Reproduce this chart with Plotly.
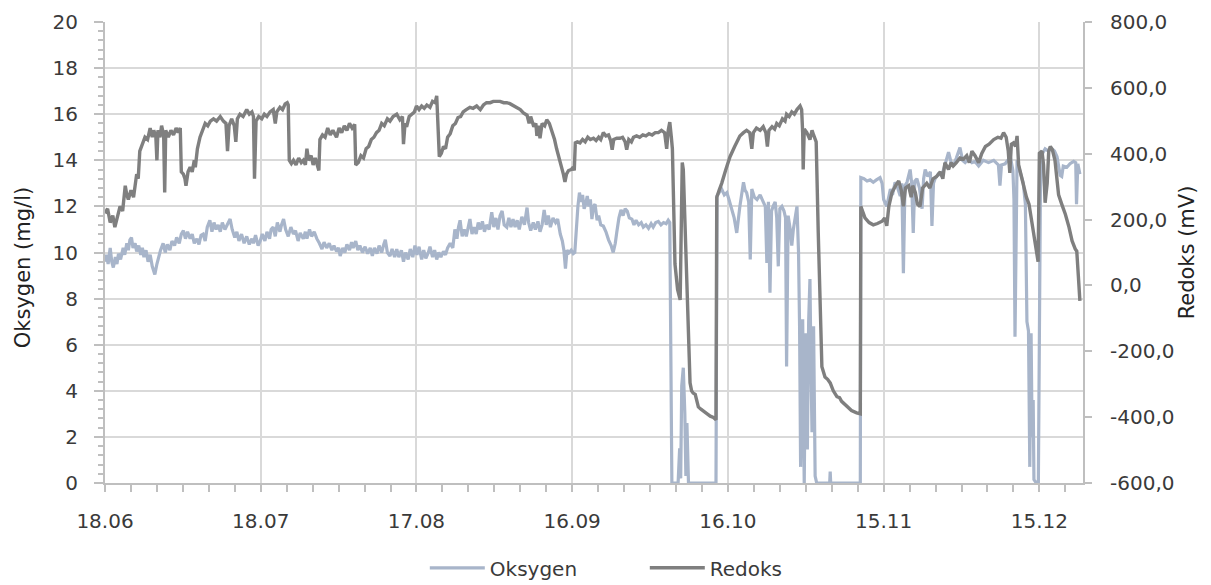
import pandas as pd
import plotly.graph_objects as go

START = "2013-06-18"
END_DAY = 188.4

# x tick labels (every 30 days from 18.06)
tick_dates = ["2013-06-18", "2013-07-18", "2013-08-17", "2013-09-16",
              "2013-10-16", "2013-11-15", "2013-12-15"]
tick_text = ["18.06", "18.07", "17.08", "16.09", "16.10", "15.11", "15.12"]

y1_ticks = [0, 2, 4, 6, 8, 10, 12, 14, 16, 18, 20]
y2_ticks = [-600, -400, -200, 0, 200, 400, 600, 800]
y2_text = ["-600,0", "-400,0", "-200,0", "0,0", "200,0", "400,0", "600,0", "800,0"]

# Redoks (mV), day offset from 18.06
redox_day = [
    0.0, 0.5, 1.0, 1.5, 1.9, 2.4, 2.9, 3.4, 3.9, 4.2,
    4.5, 5.0, 5.5, 6.1, 6.4, 6.7, 7.2, 7.7, 8.2, 8.7,
    9.1, 9.4, 9.8, 10.0, 10.2, 10.6, 10.9, 11.3, 11.5, 11.7,
    12.2, 12.7, 13.2, 13.7, 14.1, 14.5, 14.7, 15.1, 15.4, 15.6,
    16.0, 16.4, 16.8, 17.2, 17.4, 17.8, 18.3, 18.8, 19.3, 19.8,
    20.3, 20.9, 21.5, 22.2, 22.8, 23.3, 23.6, 23.9, 24.4, 24.9,
    25.2, 25.5, 26.0, 26.6, 27.3, 27.8, 28.3, 28.6, 28.8, 29.1,
    29.6, 30.2, 30.7, 31.2, 31.8, 32.4, 32.8, 33.1, 33.7, 34.2,
    34.7, 35.1, 35.3, 35.5, 35.9, 36.3, 36.8, 37.3, 37.8, 38.2,
    38.6, 38.9, 39.2, 39.7, 40.1, 40.5, 40.9, 41.2, 41.4, 41.9,
    42.4, 42.9, 43.4, 43.9, 44.6, 45.1, 45.6, 46.1, 46.6, 47.1,
    47.6, 48.1, 48.3, 48.8, 49.3, 49.8, 50.3, 50.8, 51.3, 51.8,
    52.3, 52.8, 53.3, 53.8, 54.4, 54.9, 55.5, 56.2, 56.8, 57.3,
    57.5, 57.8, 58.1, 58.6, 59.1, 59.6, 60.0, 60.5, 61.0, 61.5,
    62.0, 62.6, 63.1, 63.6, 63.9, 64.1, 64.4, 64.8, 65.2, 65.6,
    66.0, 66.5, 67.0, 67.5, 68.0, 68.5, 69.0, 69.6, 70.3, 70.9,
    71.6, 72.3, 72.9, 73.5, 74.2, 74.8, 75.4, 76.1, 76.8, 77.4,
    78.0, 78.7, 79.3, 80.0, 80.6, 81.3, 81.7, 82.0, 82.6, 83.0,
    83.2, 83.5, 83.8, 84.2, 84.7, 85.1, 85.6, 86.1, 86.6, 87.0,
    87.5, 88.0, 88.3, 88.6, 88.9, 89.3, 89.8, 90.2, 90.4, 90.6,
    91.0, 91.5, 92.0, 92.5, 93.0, 93.5, 94.1, 94.6, 95.1, 95.5,
    96.0, 96.5, 97.0, 97.4, 97.7, 98.0, 98.6, 99.2, 99.7, 100.2,
    100.5, 100.9, 101.4, 101.8, 102.4, 103.0, 103.6, 104.2, 104.8, 105.4,
    106.0, 106.6, 107.2, 107.8, 108.2, 108.5, 108.8, 109.1, 109.3, 109.8,
    110.3, 110.8, 111.0, 111.2, 111.4, 111.8, 112.3, 112.7, 113.0, 113.3,
    113.7, 114.0, 114.3, 114.8, 115.3, 116.0, 116.6, 117.2, 117.7, 117.85,
    118.3, 118.8, 119.6, 120.4, 121.3, 122.3, 123.0, 123.6, 124.2, 124.6,
    124.9, 125.5, 126.2, 126.8, 127.3, 127.6, 127.9, 128.5, 129.0, 129.4,
    129.9, 130.5, 131.0, 131.3, 131.8, 132.3, 132.8, 133.3, 133.9, 134.2,
    134.4, 134.5, 134.7, 135.2, 135.8, 136.2, 136.5, 137.0, 137.4, 137.8,
    138.1, 138.7, 139.2, 139.7, 140.3, 141.0, 141.5, 141.9, 142.4, 142.9,
    143.8, 144.8, 145.5, 145.6, 146.0, 146.4, 147.2, 148.0, 148.8, 149.7,
    150.2, 150.6, 151.0, 151.6, 152.3, 152.9, 153.4, 153.8, 154.2, 154.8,
    155.3, 155.6, 156.1, 156.5, 157.0, 157.5, 158.3, 158.9, 159.5, 160.2,
    160.9, 161.4, 161.8, 162.5, 163.0, 163.4, 164.0, 164.7, 165.4, 166.0,
    166.5, 167.0, 167.6, 168.3, 168.9, 169.6, 170.3, 171.2, 172.0, 172.6,
    173.1, 173.6, 174.0, 174.3, 174.6, 175.0, 175.4, 175.7, 176.0, 176.5,
    176.9, 177.5, 178.0, 178.5, 178.9, 179.4, 179.75, 180.0, 180.5, 180.8,
    181.1, 181.5, 181.8, 182.1, 182.5, 183.0, 183.4, 183.7, 184.3, 185.0,
    185.7, 186.3, 186.9, 187.2, 187.5, 187.8,
]
redox_mv = [
    219, 233, 191, 212, 177, 205, 240, 226, 303, 275,
    261, 289, 268, 338, 324, 408, 429, 450, 443, 478,
    450, 471, 450, 380, 471, 450, 485, 457, 282, 471,
    450, 471, 457, 478, 464, 478, 345, 338, 324, 303,
    345, 359, 345, 380, 359, 415, 450, 471, 492, 485,
    499, 506, 499, 513, 499, 492, 408, 485, 506, 485,
    436, 506, 520, 513, 534, 520, 527, 513, 324, 499,
    513, 506, 520, 513, 527, 534, 492, 527, 541, 534,
    551, 555, 548, 380, 370, 380, 366, 387, 373, 380,
    366, 415, 380, 394, 366, 387, 359, 349, 443, 457,
    450, 478, 457, 471, 450, 478, 464, 485, 471, 492,
    478, 489, 366, 373, 394, 387, 415, 422, 443, 450,
    464, 471, 492, 485, 506, 499, 513, 520, 503, 513,
    429, 492, 482, 513, 520, 527, 545, 534, 545, 538,
    548, 541, 559, 555, 576, 478, 391, 401, 422, 415,
    450, 461, 485, 492, 510, 513, 527, 534, 541, 538,
    545, 534, 548, 555, 555, 559, 559, 559, 555, 555,
    552, 545, 538, 534, 524, 517, 492, 513, 482, 492,
    454, 485, 447, 492, 485, 503, 492, 471, 443, 415,
    387, 359, 338, 314, 338, 349, 352, 359, 349, 433,
    436, 433, 443, 436, 450, 443, 447, 440, 450, 443,
    464, 454, 457, 440, 412, 443, 447, 447, 450, 436,
    412, 443, 436, 450, 454, 450, 457, 454, 461, 457,
    464, 464, 471, 464, 415, 471, 496, 450, 415, 65,
    -12, -44, 135, 373, 352, 163, -145, -296, -320, -327,
    -331, -355, -369, -376, -383, -390, -397, -401, -408, 268,
    289, 310, 352, 391, 422, 454, 464, 471, 464, 415,
    464, 478, 471, 482, 464, 422, 471, 482, 475, 492,
    485, 506, 499, 520, 513, 527, 520, 534, 545, 534,
    464, 352, 475, 464, 443, 471, 457, 436, 160, -75,
    -247, -278, -285, -296, -320, -338, -341, -352, -359, -369,
    -380, -387, -390, 240, 219, 205, 191, 184, 188, 195,
    205, 181, 240, 282, 303, 317, 289, 240, 296, 303,
    268, 303, 282, 247, 240, 296, 310, 296, 324, 331,
    345, 324, 373, 352, 373, 363, 373, 387, 384, 394,
    373, 408, 394, 373, 401, 422, 429, 443, 450, 447,
    464, 450, 408, 342, 429, 433, 422, 454, 366, 331,
    303, 268, 247, 198, 160, 107, 72, 401, 408, 366,
    251, 310, 408, 422, 412, 380, 324, 275, 247, 216,
    177, 135, 111, 104, 30, -47,
]

# Oksygen (mg/l), day offset from 18.06
oxy_day = [
    0.0, 0.3, 0.6, 1.0, 1.3, 1.6, 2.0, 2.3, 2.6, 3.0,
    3.5, 3.8, 4.2, 4.5, 4.8, 5.1, 5.4, 5.8, 6.1, 6.5,
    6.9, 7.2, 7.5, 7.9, 8.3, 8.7, 9.1, 9.6, 10.0, 10.3,
    10.7, 11.2, 11.6, 12.0, 12.5, 12.9, 13.4, 13.8, 14.3, 14.7,
    15.1, 15.5, 15.9, 16.4, 16.8, 17.2, 17.7, 18.1, 18.5, 18.9,
    19.3, 19.7, 20.2, 20.6, 21.0, 21.4, 21.8, 22.2, 22.6, 23.1,
    23.5, 24.1, 24.5, 25.0, 25.4, 25.8, 26.3, 26.8, 27.3, 27.8,
    28.3, 28.6, 29.0, 29.5, 29.9, 30.3, 30.8, 31.2, 31.7, 32.0,
    32.4, 32.8, 33.2, 33.7, 34.0, 34.4, 34.8, 35.3, 35.8, 36.3,
    36.7, 37.2, 37.6, 38.2, 38.6, 38.9, 39.4, 39.8, 40.3, 40.8,
    41.3, 41.8, 42.2, 42.7, 43.2, 43.7, 44.1, 44.6, 45.0, 45.3,
    45.8, 46.2, 46.6, 47.1, 47.5, 47.8, 48.3, 48.7, 49.1, 49.6,
    50.1, 50.6, 51.1, 51.5, 51.9, 52.4, 52.8, 53.3, 53.7, 54.0,
    54.4, 54.9, 55.3, 55.8, 56.2, 56.6, 57.1, 57.5, 57.9, 58.4,
    58.8, 59.3, 59.7, 60.1, 60.5, 61.0, 61.4, 61.8, 62.3, 62.6,
    63.1, 63.5, 63.9, 64.3, 64.7, 65.2, 65.6, 66.0, 66.5, 67.0,
    67.4, 67.8, 68.1, 68.4, 68.8, 69.2, 69.6, 70.0, 70.3, 70.7,
    71.1, 71.5, 71.9, 72.3, 72.7, 73.1, 73.5, 74.0, 74.5, 74.9,
    75.3, 75.7, 76.1, 76.5, 76.9, 77.4, 77.8, 78.2, 78.6, 79.0,
    79.4, 79.8, 80.3, 80.8, 81.3, 81.6, 82.0, 82.5, 82.9, 83.4,
    83.8, 84.2, 84.6, 85.0, 85.4, 85.8, 86.3, 86.8, 87.2, 87.7,
    88.1, 88.4, 88.7, 89.0, 89.4, 89.8, 90.2, 90.5, 90.8, 91.1,
    91.4, 91.7, 92.0, 92.3, 92.6, 92.9, 93.2, 93.5, 93.8, 94.1,
    94.4, 94.8, 95.1, 95.5, 96.0, 96.5, 97.0, 97.5, 97.9, 98.3,
    98.6, 99.0, 99.4, 99.8, 100.2, 100.6, 101.0, 101.5, 101.9, 102.3,
    102.8, 103.3, 103.7, 104.2, 104.7, 105.2, 105.6, 106.1, 106.6, 107.1,
    107.6, 108.1, 108.5, 108.8, 109.2, 110.4, 110.7, 110.9, 111.1, 111.4,
    111.7, 111.9, 112.1, 112.4, 117.7, 117.9, 118.3, 118.8, 119.3, 119.8,
    120.2, 120.7, 121.2, 121.7, 122.0, 122.3, 122.7, 123.0, 123.3, 123.6,
    124.0, 124.3, 124.6, 125.1, 125.6, 126.2, 126.8, 127.2, 127.5, 127.8,
    128.1, 128.4, 128.7, 129.1, 129.4, 129.7, 130.0, 130.4, 130.8, 131.1,
    131.3, 131.6, 132.0, 132.3, 132.6, 132.9, 133.3, 133.6, 133.8, 134.0,
    134.2, 134.4, 134.55, 134.7, 134.95, 135.1, 135.3, 135.55, 135.8, 136.0,
    136.2, 136.5, 136.7, 136.8, 137.1, 139.6, 139.7, 139.8, 145.5, 145.6,
    146.2, 146.8, 147.4, 148.0, 148.6, 149.3, 149.7, 150.0, 150.6, 151.3,
    151.7, 152.2, 152.7, 153.2, 153.5, 153.8, 154.1, 154.5, 155.1, 155.4,
    155.7, 156.0, 156.4, 156.9, 157.4, 157.7, 158.0, 158.5, 159.0, 159.3,
    159.6, 159.9, 160.5, 161.2, 161.8, 162.5, 163.0, 163.4, 164.0, 164.7,
    165.2, 165.7, 166.3, 167.0, 167.6, 168.3, 169.2, 170.2, 171.2, 172.1,
    172.4, 172.7, 173.4, 174.0, 174.4, 174.9, 175.1, 175.3, 175.5, 175.7,
    176.3, 176.9, 177.3, 177.6, 177.9, 178.15, 178.4, 178.6, 178.8, 178.95,
    179.4, 179.8, 180.2, 180.6, 181.1, 181.7, 182.4, 182.9, 183.4, 184.0,
    184.3, 184.6, 185.3, 185.9, 186.6, 187.0, 187.15, 187.4, 187.8,
]
oxy_mg = [
    9.6, 9.9, 9.5, 10.2, 9.6, 9.35, 9.8, 9.5, 9.95, 9.7,
    10.2, 9.9, 10.4, 10.1, 10.55, 10.65, 10.2, 10.4, 10.05, 10.3,
    9.9, 10.2, 9.8, 10.1, 9.6, 9.9, 9.4, 9.05, 9.5, 9.8,
    10.1, 10.4, 10.0, 10.35, 10.1, 10.5, 10.3, 10.65, 10.4, 10.8,
    10.95, 10.6, 10.9, 10.6, 10.8, 10.4, 10.6, 10.35, 10.75, 10.8,
    10.5, 11.1, 11.4, 10.9, 11.3, 11.0, 11.2, 10.9, 11.3, 11.0,
    11.2, 11.45, 11.0, 10.65, 10.9, 10.5, 10.8, 10.4, 10.7, 10.35,
    10.6, 10.4, 10.75, 10.3, 10.5, 10.8, 10.5, 10.9, 10.6, 11.0,
    11.1, 10.7, 11.3, 10.9, 11.2, 11.45, 11.0, 10.7, 11.1, 10.8,
    10.95, 10.5, 10.85, 10.6, 10.9, 10.6, 11.0, 10.7, 10.9, 10.6,
    10.4, 10.15, 10.45, 10.2, 10.4, 10.1, 10.3, 10.05, 10.2, 9.85,
    10.2, 10.0, 10.35, 10.1, 10.45, 10.2, 10.5, 10.1, 10.3, 10.0,
    10.25, 9.95, 10.2, 9.85, 10.2, 9.95, 10.3, 10.0, 10.35, 10.55,
    10.0, 9.85, 10.15, 9.8, 10.15, 9.8, 10.1, 9.6, 10.0, 9.7,
    10.15, 9.8, 10.3, 9.9, 10.25, 9.7, 10.1, 9.75, 10.0, 10.25,
    9.8, 10.1, 9.7, 10.0, 9.8, 10.05, 9.9, 10.2, 10.4, 10.2,
    11.0, 10.6, 11.1, 11.4, 10.7, 11.0, 10.7, 11.2, 11.45, 10.8,
    11.1, 10.8, 11.3, 11.0, 11.35, 10.9, 11.2, 11.0, 11.75, 11.1,
    11.5, 11.0, 11.6, 11.8, 11.2, 11.1, 11.5, 11.1, 11.45, 11.1,
    11.4, 11.0, 11.55, 11.2, 11.95, 11.3, 10.95, 11.3, 11.0, 11.35,
    10.9, 11.2, 11.85, 11.2, 11.6, 11.1, 11.5, 11.3, 11.45, 10.8,
    10.5, 10.1, 9.3, 10.1, 10.0, 10.1, 9.95, 10.0, 11.2, 12.0,
    12.6, 12.2, 12.5, 11.9, 12.1, 12.45, 12.0, 12.3, 11.45, 12.0,
    12.1, 11.4, 11.6, 11.2, 11.15, 10.9, 10.55, 10.3, 10.0, 10.4,
    10.9, 11.5, 11.85, 11.6, 11.9, 11.8, 11.5, 11.45, 11.2, 11.4,
    11.2, 11.3, 11.1, 11.2, 11.05, 11.25, 11.1, 11.3, 11.35, 11.2,
    11.3, 11.25, 11.4, 11.3, 0, 0, 1.5, 0.2, 4.2, 5.0,
    3.0, 0.3, 2.6, 0, 0, 12.45, 12.6, 12.75, 12.5, 12.6,
    12.3, 11.9, 11.5, 10.85, 11.6, 12.0, 12.6, 13.05, 12.7, 12.6,
    12.2, 9.7, 12.75, 12.4, 12.3, 12.5, 12.2, 12.0, 9.55, 12.2,
    8.25, 11.8, 12.0, 12.2, 11.5, 9.4, 11.9, 12.0, 11.8, 11.5,
    5.05, 11.6, 11.0, 10.3, 11.0, 11.4, 12.0, 10.0, 6.8, 0.7,
    4.0, 7.1, 3.0, 0, 6.5, 4.0, 1.45, 7.0, 8.85, 5.0,
    2.2, 6.8, 3.5, 0.3, 0, 0, 0.5, 0, 0, 13.25,
    13.2, 13.1, 13.15, 13.05, 13.15, 13.25, 13.0, 12.3, 12.0, 12.75,
    12.5, 13.05, 12.8, 12.45, 13.0, 9.1, 12.9, 13.05, 13.6, 13.0,
    10.85, 13.1, 13.2, 12.8, 11.9, 13.2, 13.6, 13.3, 13.5, 11.15,
    13.0, 13.2, 13.4, 13.35, 13.8, 14.35, 13.9, 13.75, 14.1, 14.55,
    14.0, 13.9, 14.05, 13.9, 13.95, 13.75, 14.0, 13.9, 14.0, 13.8,
    12.9, 13.8, 13.85, 14.05, 14.15, 13.55, 12.3, 6.35, 12.5, 14.0,
    13.5, 13.0, 12.1, 7.0, 6.6, 0.7, 6.5, 2.0, 3.6, 0.15,
    0, 0, 12.85, 14.3, 14.5, 14.4, 14.5, 14.4, 14.15, 13.35,
    13.3, 13.75, 13.7, 13.85, 13.95, 13.9, 12.1, 13.85, 13.4,
]

assert len(redox_day) == len(redox_mv), (len(redox_day), len(redox_mv))
assert len(oxy_day) == len(oxy_mg), (len(oxy_day), len(oxy_mg))

base = pd.Timestamp(START)
oxy_x = base + pd.to_timedelta(oxy_day, unit="D")
redox_x = base + pd.to_timedelta(redox_day, unit="D")
x_end = base + pd.to_timedelta(END_DAY, unit="D")

OXY_COLOR = "#a8b5ca"
REDOX_COLOR = "#7f7f7f"
GRID = "#d9d9d9"
AXIS = "#bfbfbf"
FONT = "DejaVu Sans"
TXT = "#3a3a3a"

fig = go.Figure()
fig.add_trace(go.Scatter(x=oxy_x, y=oxy_mg, name="Oksygen", mode="lines",
                         line=dict(color=OXY_COLOR, width=3.2)))
fig.add_trace(go.Scatter(x=redox_x, y=redox_mv, name="Redoks", mode="lines",
                         yaxis="y2", line=dict(color=REDOX_COLOR, width=3.4)))

DAY_MS = 86400000
fig.update_layout(
    width=1211, height=585,
    margin=dict(l=105, r=128, t=22, b=102, autoexpand=False),
    paper_bgcolor="white", plot_bgcolor="white",
    font=dict(family=FONT, size=20, color=TXT),
    showlegend=True,
    legend=dict(orientation="h", x=0.327, xanchor="left", y=-0.184, yanchor="middle",
                font=dict(family=FONT, size=20, color=TXT),
                itemwidth=55,
                entrywidth=150, entrywidthmode="pixels"),
    xaxis=dict(
        type="date", range=[base, x_end], automargin=False,
        tickmode="array", tickvals=tick_dates, ticktext=tick_text,
        ticks="outside", ticklen=7, tickwidth=2, tickcolor=AXIS,
        showline=True, linecolor=AXIS, linewidth=2,
        showgrid=True, gridcolor=GRID, gridwidth=2,
        zeroline=False, ticklabelstandoff=12,
        tickfont=dict(family=FONT, size=20, color=TXT),
        minor=dict(ticks="outside", dtick=5 * DAY_MS, tick0=START, ticklen=7,
                   tickwidth=2, tickcolor=AXIS, showgrid=False),
    ),
    yaxis=dict(
        range=[0, 20], tickmode="array", tickvals=y1_ticks, automargin=False,
        ticktext=[str(v) for v in y1_ticks],
        ticks="outside", ticklen=9, tickwidth=2, tickcolor=AXIS,
        showline=True, linecolor=AXIS, linewidth=2,
        showgrid=True, gridcolor=GRID, gridwidth=2, zeroline=False,
        ticklabelstandoff=12,
        tickfont=dict(family=FONT, size=20, color=TXT),
        minor=dict(ticks="outside", dtick=0.4, tick0=0, ticklen=5, tickwidth=2,
                   tickcolor=AXIS, showgrid=False),
    ),
    yaxis2=dict(
        range=[-600, 800], overlaying="y", side="right", automargin=False,
        tickmode="array", tickvals=y2_ticks, ticktext=y2_text,
        ticks="outside", ticklen=7, tickwidth=2, tickcolor=AXIS,
        showline=True, linecolor=AXIS, linewidth=2,
        showgrid=False, zeroline=False, ticklabelstandoff=14,
        tickfont=dict(family=FONT, size=20, color=TXT),
        title=dict(text="Redoks (mV)", standoff=6,
                   font=dict(family=FONT, size=21, color="#222")),
    ),
    annotations=[dict(
        text="Oksygen (mg/l)", textangle=-90, showarrow=False,
        xref="paper", yref="paper", x=-0.0838, y=0.466,
        xanchor="center", yanchor="middle",
        font=dict(family=FONT, size=21, color="#222"),
    )],
)

fig.write_html("out.html")
